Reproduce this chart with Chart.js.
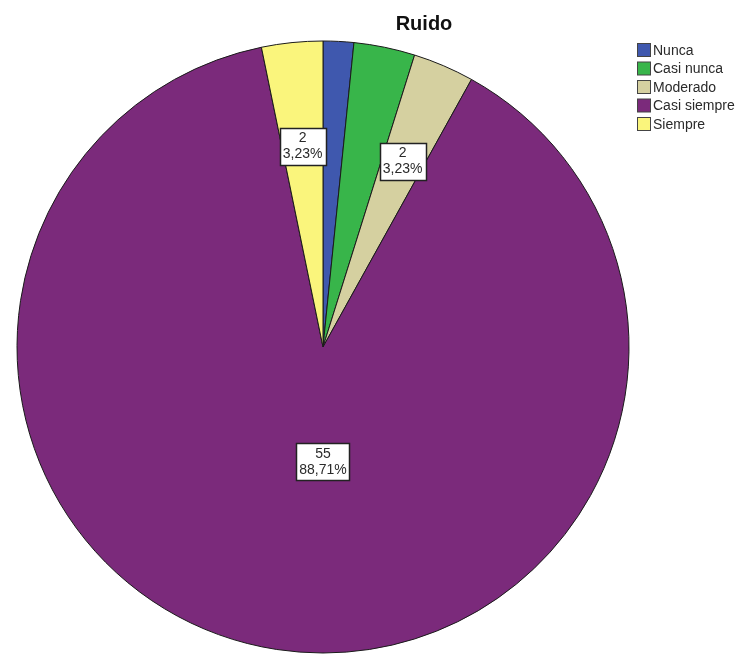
<!DOCTYPE html>
<html>
<head>
<meta charset="utf-8">
<script src="https://cdn.jsdelivr.net/npm/chart.js@4.4.0/dist/chart.umd.min.js"></script>
<style>
    html, body { margin: 0; padding: 0; background: #fff; overflow: hidden; }
    #wrap { width: 739px; height: 655px; position: relative; }
</style>
</head>
<body>
<div id="wrap"><canvas id="myChart" width="739" height="655"></canvas></div>
<script>
var labels = ['Nunca', 'Casi nunca', 'Moderado', 'Casi siempre', 'Siempre'];
var counts = [1, 2, 2, 55, 2];
var colors = ['#3f58ae', '#38b54a', '#d5d0a0', '#7b2a7b', '#faf57c'];
// which slices get a count/percent box (SPSS only labelled some of them)
var showLabel = [false, false, true, true, true];
var chartTitle = 'Ruido';

var total = counts.reduce(function (a, b) { return a + b; }, 0);

function pct(v) {
    return (v / total * 100).toFixed(2).replace('.', ',') + '%';
}

// title, legend and the value boxes
const decor = {
    id: 'decor',
    afterDatasetsDraw: function (chart) {
        const c = chart.ctx;
        const meta = chart.getDatasetMeta(0);

        c.save();
        c.font = '14px "Liberation Sans", Arial, sans-serif';
        c.textAlign = 'center';
        c.textBaseline = 'middle';
        meta.data.forEach(function (arc, i) {
            if (!showLabel[i]) return;
            var p = arc.getProps(['x', 'y', 'startAngle', 'endAngle', 'outerRadius'], true);
            var ang = (p.startAngle + p.endAngle) / 2;
            var frac = 0.66;
            if (counts[i] / total > 0.5) { ang = Math.PI / 2; frac = 0.375; }
            var lx = p.x + Math.cos(ang) * p.outerRadius * frac;
            var ly = p.y + Math.sin(ang) * p.outerRadius * frac;
            var l1 = String(counts[i]), l2 = pct(counts[i]);
            var w = Math.max(c.measureText(l1).width, c.measureText(l2).width) + 6;
            var h = 37;
            var bx = Math.round(lx - w / 2) + 0.5, by = Math.round(ly - h / 2) + 0.5;
            c.fillStyle = '#fff';
            c.fillRect(bx, by, Math.round(w), h);
            c.strokeStyle = '#222';
            c.lineWidth = 1.5;
            c.strokeRect(bx, by, Math.round(w), h);
            c.fillStyle = '#2a2a2a';
            c.fillText(l1, lx, ly - 8);
            c.fillText(l2, lx, ly + 8);
        });

        c.font = 'bold 20px "Liberation Sans", Arial, sans-serif';
        c.fillStyle = '#111';
        c.fillText(chartTitle, 424, 24);

        c.font = '14px "Liberation Sans", Arial, sans-serif';
        c.textAlign = 'left';
        labels.forEach(function (lab, i) {
            var y = 50 + i * 18.5;
            c.fillStyle = colors[i];
            c.fillRect(637.5, y - 6.5, 13, 13);
            c.strokeStyle = '#444';
            c.lineWidth = 1;
            c.strokeRect(637.5, y - 6.5, 13, 13);
            c.fillStyle = '#2a2a2a';
            c.fillText(lab, 653, y + 1);
        });
        c.restore();
    }
};

const ctx = document.getElementById('myChart').getContext('2d');
const myChart = new Chart(ctx, {
    type: 'pie',
    data: {
        labels: labels,
        datasets: [{
            data: counts,
            backgroundColor: colors,
            borderColor: '#1a1a1a',
            borderWidth: 1,
            hoverOffset: 0
        }]
    },
    options: {
        responsive: false,
        animation: false,
        radius: 306,
        layout: {
            padding: { left: 17, right: 110, top: 41, bottom: 2 }
        },
        plugins: {
            legend: { display: false },
            title: { display: false },
            tooltip: { enabled: false }
        }
    },
    plugins: [decor]
});
</script>
</body>
</html>
